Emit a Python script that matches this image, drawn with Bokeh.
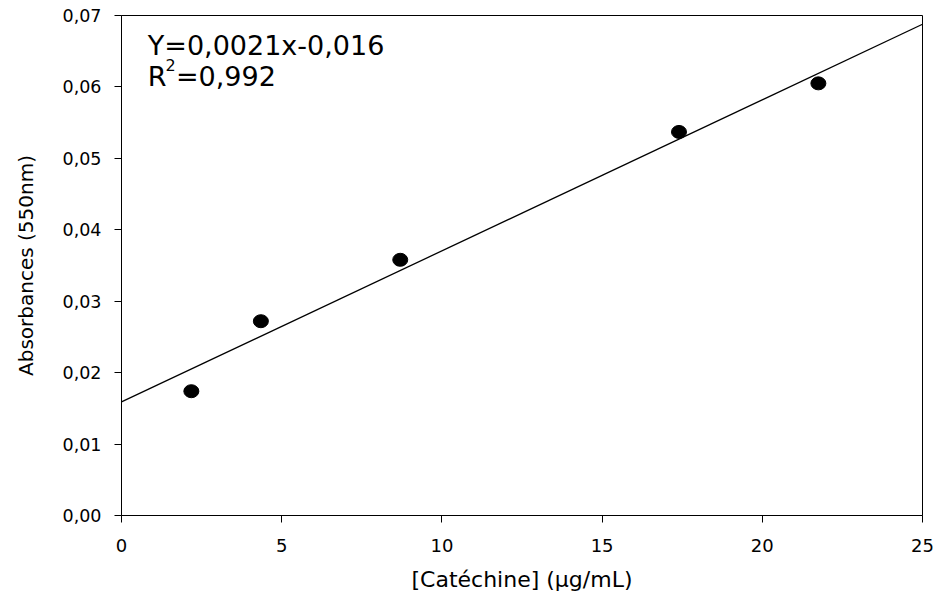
from bokeh.plotting import figure
from bokeh.models import Range1d, FixedTicker, CustomJSTickFormatter, Label
from bokeh.embed import file_html
from bokeh.resources import INLINE

# Data
conc = [2.18, 4.35, 8.7, 17.4, 21.75]
absorb = [0.0174, 0.0272, 0.0358, 0.0537, 0.0605]
fit_x = [0, 25]
slope = 0.002115
intercept = 0.0159
fit_y = [intercept + slope * v for v in fit_x]
x_ticks = [0, 5, 10, 15, 20, 25]
y_ticks = [0.0, 0.01, 0.02, 0.03, 0.04, 0.05, 0.06, 0.07]
eq_text = "Y=0,0021x-0,016"
r2_text = "=0,992"

FONT = "DejaVu Sans"

p = figure(width=935, height=600, output_backend="svg", toolbar_location=None,
           x_range=Range1d(0, 25), y_range=Range1d(0, 0.07),
           min_border_left=121, min_border_right=13, min_border_top=15, min_border_bottom=85)
p.background_fill_color = "white"
p.border_fill_color = "white"
p.outline_line_color = "black"
p.outline_line_width = 1
p.xgrid.visible = False
p.ygrid.visible = False

fmt = CustomJSTickFormatter(code="return tick.toFixed(2).replace('.', ',');")
p.yaxis.ticker = FixedTicker(ticks=y_ticks)
p.yaxis.formatter = fmt
p.xaxis.ticker = FixedTicker(ticks=x_ticks)

for ax in (p.xaxis[0], p.yaxis[0]):
    ax.axis_line_color = "black"
    ax.axis_line_width = 1
    ax.major_tick_line_color = "black"
    ax.major_tick_out = 7
    ax.major_tick_in = 0
    ax.minor_tick_line_color = None
    ax.major_label_text_color = "black"
    ax.major_label_text_font = FONT
    ax.axis_label_text_color = "black"
    ax.axis_label_text_font = FONT
    ax.axis_label_text_font_style = "normal"

p.xaxis.major_label_text_font_size = "18px"
p.yaxis.major_label_text_font_size = "17.5px"
p.xaxis.major_label_standoff = 16
p.yaxis.major_label_standoff = 13
p.xaxis.axis_label = "[Catéchine] (µg/mL)"
p.yaxis.axis_label = "Absorbances (550nm)"
p.xaxis.axis_label_text_font_size = "22px"
p.yaxis.axis_label_text_font_size = "20px"
p.xaxis.axis_label_standoff = 12
p.yaxis.axis_label_standoff = 22

p.line(fit_x, fit_y, line_color="black", line_width=1.3)
p.ellipse(conc, absorb, width=15, height=13, width_units="screen", height_units="screen",
          fill_color="black", line_color="black")

p.add_layout(Label(x=0.82, y=0.0658, text=eq_text, text_font=FONT, text_font_size="27px",
                   text_color="black", text_baseline="alphabetic"))
p.add_layout(Label(x=0.82, y=0.06146, text="R", text_font=FONT, text_font_size="27px",
                   text_color="black", text_baseline="alphabetic"))
p.add_layout(Label(x=1.37, y=0.0631, text="2", text_font=FONT, text_font_size="16px",
                   text_color="black", text_baseline="alphabetic"))
p.add_layout(Label(x=1.70, y=0.06146, text=r2_text, text_font=FONT, text_font_size="27px",
                   text_color="black", text_baseline="alphabetic"))

open("out.html", "w").write(file_html(p, INLINE))
